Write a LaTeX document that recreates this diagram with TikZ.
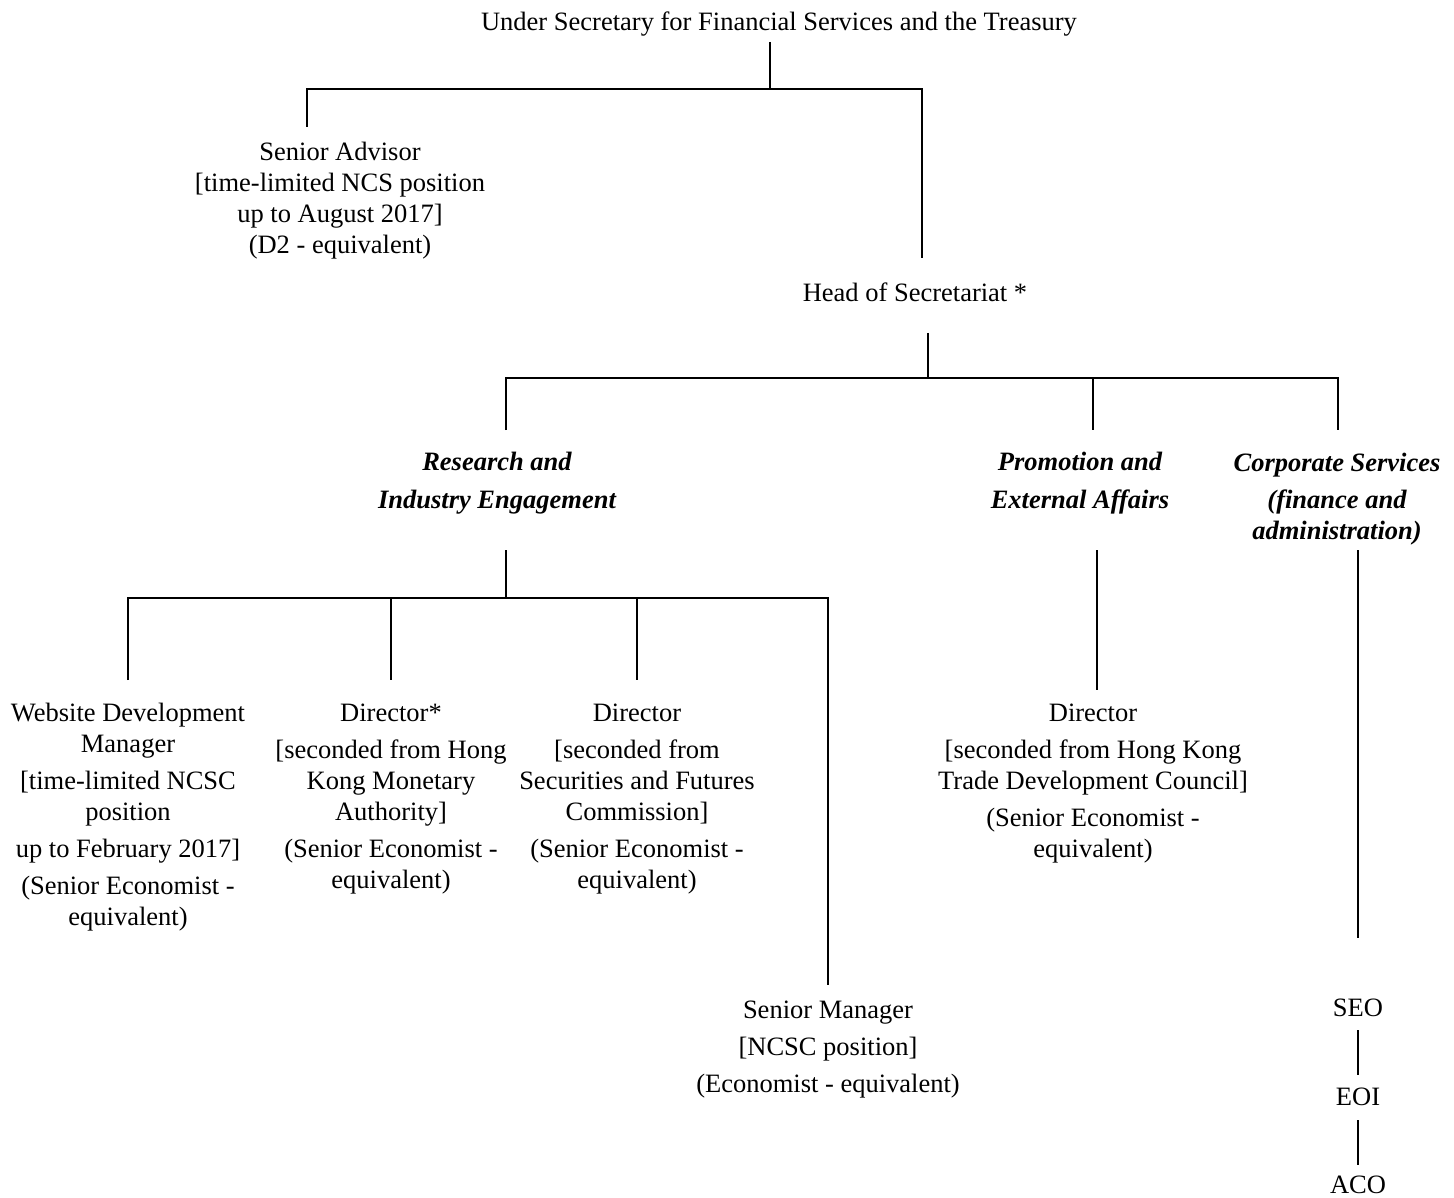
\documentclass[tikz,border=0pt]{standalone}
\usepackage{fontspec}
\setmainfont{Liberation Serif}
\begin{document}
\begin{tikzpicture}[x=1pt,y=-1pt,
  lbl/.style={align=center, inner sep=0pt, anchor=base, font=\fontsize{26.5}{31}\selectfont},
  ital/.style={lbl, font=\fontsize{26.5}{31}\selectfont\bfseries\itshape},
  conn/.style={line width=2pt}]
\useasboundingbox (0,0) rectangle (1454,1198);

% nodes (anchor = baseline of the last line)
\node[lbl] (title) at (779,31) {Under Secretary for Financial Services and the Treasury};
\node[lbl] (adv) at (340,254) {Senior Advisor\\{[}time-limited NCS position\\up to August 2017{]}\\(D2 - equivalent)};
\node[lbl] (head) at (915,302) {Head of Secretariat *};
\node[ital] (rie) at (497,508) {Research and\\[7pt]Industry Engagement};
\node[ital] (pea) at (1080,508) {Promotion and\\[7pt]External Affairs};
\node[ital] (cs) at (1337,539) {Corporate Services\\[6pt](finance and\\administration)};
\node[lbl] (web) at (128,925) {Website Development\\Manager\\[6pt]{[}time-limited NCSC\\position\\[6pt]up to February 2017{]}\\[6pt](Senior Economist -\\equivalent)};
\node[lbl] (dir1) at (391,888) {Director*\\[6pt]{[}seconded from Hong\\Kong Monetary\\Authority{]}\\[6pt](Senior Economist -\\equivalent)};
\node[lbl] (dir2) at (637,888) {Director\\[6pt]{[}seconded from\\Securities and Futures\\Commission{]}\\[6pt](Senior Economist -\\equivalent)};
\node[lbl] (dir3) at (1093,857) {Director\\[6pt]{[}seconded from Hong Kong\\Trade Development Council{]}\\[6pt](Senior Economist -\\equivalent)};
\node[lbl] (sm) at (828,1092) {Senior Manager\\[6pt]{[}NCSC position{]}\\[6pt](Economist - equivalent)};
\node[lbl] (seo) at (1358,1016) {SEO};
\node[lbl] (eoi) at (1358,1105) {EOI};
\node[lbl] (aco) at (1358,1193) {ACO};

% junction coordinates
\coordinate (t0) at (770,42);
\coordinate (tL) at (307,89);
\coordinate (tR) at (922,89);
\coordinate (advT) at (307,127);
\coordinate (headT) at (922,258);
\coordinate (h0) at (928,333);
\coordinate (hL) at (506,378);
\coordinate (hM) at (1093,378);
\coordinate (hR) at (1338,378);
\coordinate (rieT) at (506,430);
\coordinate (peaT) at (1093,430);
\coordinate (csT) at (1338,430);
\coordinate (r0) at (506,550);
\coordinate (rL) at (128,598);
\coordinate (rR) at (828,598);
\coordinate (webT) at (128,680);
\coordinate (dir1T) at (391,680);
\coordinate (dir2T) at (637,680);
\coordinate (smT) at (828,985);
\coordinate (p0) at (1097,550);
\coordinate (dir3T) at (1097,690);
\coordinate (c0) at (1358,550);
\coordinate (seoT) at (1358,938);
\coordinate (s1) at (1358,1030);
\coordinate (s2) at (1358,1075);
\coordinate (e1) at (1358,1120);
\coordinate (e2) at (1358,1165);

% connectors
\draw[conn] (t0) -- (t0 |- tL);
\draw[conn] (advT) -- (tL) -- (tR) -- (headT);
\draw[conn] (h0) -- (h0 |- hL);
\draw[conn] (rieT) -- (hL) -- (hR) -- (csT);
\draw[conn] (hM) -- (peaT);
\draw[conn] (r0) -- (r0 |- rL);
\draw[conn] (webT) -- (rL) -- (rR) -- (smT);
\draw[conn] (dir1T |- rL) -- (dir1T);
\draw[conn] (dir2T |- rL) -- (dir2T);
\draw[conn] (p0) -- (dir3T);
\draw[conn] (c0) -- (seoT);
\draw[conn] (s1) -- (s2);
\draw[conn] (e1) -- (e2);
\end{tikzpicture}
\end{document}
